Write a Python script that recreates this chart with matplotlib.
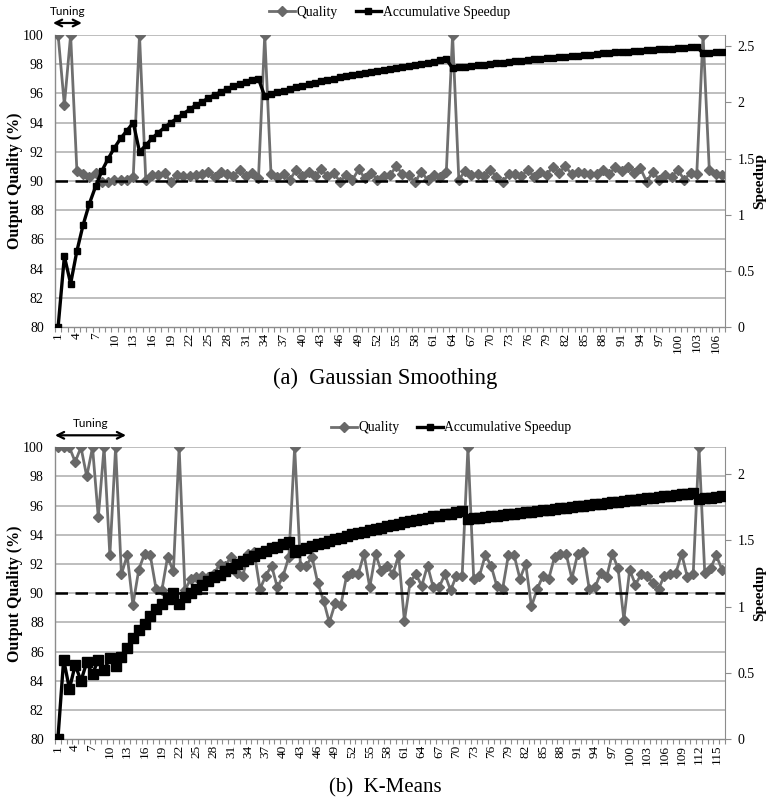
import matplotlib
matplotlib.use("Agg")
import matplotlib.pyplot as plt
from matplotlib.lines import Line2D
from matplotlib.ticker import FixedLocator, FuncFormatter

# ---------------- data: Gaussian Smoothing ----------------
gs_quality = [
    100, 95.2, 100, 90.7, 90.5, 90.3, 90.57, 89.95, 89.9, 90.1,
    90.07, 90.07, 90.3, 100, 90.07, 90.4, 90.4, 90.57, 89.9, 90.4,
    90.36, 90.36, 90.4, 90.5, 90.6, 90.3, 90.64, 90.5, 90.34, 90.75,
    90.34, 90.57, 90.18, 100, 90.48, 90.3, 90.5, 90.07, 90.75, 90.34,
    90.64, 90.34, 90.8, 90.34, 90.57, 89.95, 90.4, 90.07, 90.8, 90.18,
    90.57, 90.07, 90.34, 90.4, 91.0, 90.48, 90.4, 89.9, 90.64, 90.07,
    90.4, 90.3, 90.64, 100, 90.07, 90.7, 90.4, 90.5, 90.34, 90.75,
    90.3, 89.92, 90.5, 90.48, 90.34, 90.75, 90.3, 90.64, 90.4, 90.98,
    90.57, 91.0, 90.48, 90.64, 90.57, 90.5, 90.48, 90.75, 90.48, 90.93,
    90.7, 90.98, 90.57, 90.86, 89.95, 90.64, 90.07, 90.4, 90.3, 90.75,
    90.07, 90.57, 90.5, 100, 90.75, 90.48, 90.4,
]
gs_speedup = [
    0.0, 0.629, 0.386, 0.676, 0.91, 1.099, 1.253, 1.391, 1.499, 1.596,
    1.68, 1.749, 1.82, 1.56, 1.617, 1.68, 1.729, 1.778, 1.82, 1.859,
    1.898, 1.937, 1.976, 2.002, 2.041, 2.067, 2.093, 2.119, 2.145, 2.165,
    2.184, 2.197, 2.21, 2.054, 2.071, 2.088, 2.103, 2.119, 2.133, 2.148,
    2.161, 2.174, 2.187, 2.198, 2.21, 2.222, 2.232, 2.243, 2.253, 2.263,
    2.272, 2.282, 2.291, 2.3, 2.309, 2.318, 2.327, 2.336, 2.345, 2.353,
    2.362, 2.373, 2.383, 2.304, 2.311, 2.318, 2.324, 2.331, 2.337, 2.344,
    2.349, 2.354, 2.361, 2.366, 2.371, 2.376, 2.382, 2.387, 2.392, 2.397,
    2.402, 2.408, 2.412, 2.417, 2.421, 2.426, 2.43, 2.435, 2.439, 2.444,
    2.448, 2.452, 2.456, 2.46, 2.464, 2.467, 2.471, 2.475, 2.479, 2.483,
    2.487, 2.491, 2.495, 2.436, 2.441, 2.447, 2.452,
]

# ---------------- data: K-Means ----------------
km_quality = [
    100, 100, 100, 99.0, 100, 98.0, 100, 95.2, 100, 92.6,
    100, 91.3, 92.6, 89.2, 91.6, 92.7, 92.6, 90.3, 90.2, 92.5,
    91.5, 100, 90.2, 91.0, 91.1, 91.2, 91.1, 91.3, 92.0, 91.9,
    92.5, 91.4, 91.2, 92.7, 92.8, 90.3, 91.2, 91.9, 90.4, 91.2,
    92.5, 100, 91.9, 91.9, 92.5, 90.7, 89.5, 88.0, 89.3, 89.2,
    91.2, 91.4, 91.3, 92.7, 90.4, 92.7, 91.5, 91.9, 91.3, 92.6,
    88.1, 90.8, 91.3, 90.5, 91.9, 90.4, 90.4, 91.3, 90.2, 91.2,
    91.2, 100, 91.0, 91.2, 92.6, 91.9, 90.5, 90.3, 92.6, 92.6,
    91.0, 92.0, 89.1, 90.3, 91.2, 91.0, 92.5, 92.7, 92.7, 91.0,
    92.7, 92.8, 90.3, 90.4, 91.4, 91.1, 92.7, 91.7, 88.2, 91.6,
    90.6, 91.3, 91.2, 90.7, 90.3, 91.2, 91.3, 91.4, 92.7, 91.1,
    91.3, 100, 91.4, 91.7, 92.6, 91.6,
]
km_speedup = [
    0.0, 0.60, 0.38, 0.56, 0.44, 0.58, 0.49, 0.60, 0.52, 0.61,
    0.55, 0.62, 0.69, 0.76, 0.82, 0.87, 0.93, 0.98, 1.02, 1.06,
    1.10, 1.02, 1.07, 1.10, 1.13, 1.16, 1.19, 1.22, 1.24, 1.27,
    1.29, 1.32, 1.34, 1.36, 1.38, 1.40, 1.42, 1.44, 1.45, 1.47,
    1.49, 1.41, 1.425, 1.44, 1.455, 1.47, 1.48, 1.495, 1.51, 1.52,
    1.53, 1.545, 1.555, 1.565, 1.575, 1.585, 1.595, 1.605, 1.615, 1.625,
    1.635, 1.645, 1.65, 1.66, 1.67, 1.68, 1.685, 1.695, 1.70, 1.71,
    1.72, 1.66, 1.665, 1.67, 1.675, 1.68, 1.685, 1.69, 1.695, 1.70,
    1.705, 1.71, 1.715, 1.72, 1.725, 1.73, 1.735, 1.74, 1.745, 1.75,
    1.755, 1.76, 1.765, 1.77, 1.775, 1.78, 1.785, 1.79, 1.795, 1.80,
    1.805, 1.81, 1.815, 1.82, 1.825, 1.83, 1.835, 1.84, 1.845, 1.85,
    1.855, 1.81, 1.815, 1.82, 1.825, 1.83,
]

quality_threshold = 90
quality_ticks = [80, 82, 84, 86, 88, 90, 92, 94, 96, 98, 100]
gs_speed_ticks = [0, 0.5, 1, 1.5, 2, 2.5]
km_speed_ticks = [0, 0.5, 1, 1.5, 2]
gs_speed_max = 2.6
km_speed_max = 2.2

# ---------------- styling ----------------
SERIF = ["Liberation Serif", "DejaVu Serif"]
plt.rcParams["font.family"] = SERIF
GRAY_LINE = "#6f6f6f"
GRID = "#b9b9b9"
AXIS = "#8c8c8c"

fig = plt.figure(figsize=(7.70, 8.02), dpi=100)


def panel(rect, quality, speedup, smax, sticks, caption, cap_y, cap_size,
          legend_xy, tuning_x, sq_size):
    n = len(quality)
    x = list(range(1, n + 1))
    ax = fig.add_axes(rect)
    ax.set_xlim(0.5, n + 0.5)
    ax.set_ylim(80, 100)
    ax.yaxis.set_major_locator(FixedLocator(quality_ticks))
    for v in quality_ticks[1:]:
        ax.axhline(v, color=GRID, lw=1.3, zorder=0)
    for s in ("top", "right"):
        ax.spines[s].set_visible(False)
    for s in ("left", "bottom"):
        ax.spines[s].set_color(AXIS)
        ax.spines[s].set_linewidth(1.0)
    ax.tick_params(axis="y", length=0, pad=8, labelsize=10)
    ax.set_xticks(list(range(1, n + 1, 3)))
    ax.set_xticks([i + 0.5 for i in range(0, n + 1)], minor=True)
    ax.tick_params(axis="x", which="major", length=0, pad=4,
                   labelsize=9.5, labelrotation=90)
    ax.tick_params(axis="x", which="minor", length=3.5, color=AXIS, width=0.8)
    ax.set_ylabel("Output Quality (%)", fontweight="bold", fontsize=11.5)
    ax.yaxis.set_label_coords(-0.047, 0.5)

    ax.plot(x, quality, color=GRAY_LINE, lw=2.0, marker="D", ms=4.6,
            mfc="#686868", mec="#686868", zorder=3)
    ax.axhline(quality_threshold, color="black", lw=1.8,
               dashes=(5, 3), zorder=4)

    ax2 = ax.twinx()
    ax2.set_ylim(0, smax)
    ax2.yaxis.set_major_locator(FixedLocator(sticks))
    ax2.yaxis.set_major_formatter(FuncFormatter(lambda v, p: f"{v:g}"))
    for s in ("top", "left", "bottom"):
        ax2.spines[s].set_visible(False)
    ax2.spines["right"].set_color(AXIS)
    ax2.tick_params(axis="y", length=4, color=AXIS, pad=5, labelsize=10)
    ax2.set_ylabel("Speedup", fontweight="bold", fontsize=11, rotation=90)
    ax2.yaxis.set_label_coords(1.042, 0.5)
    ax2.plot(x, speedup, color="black", lw=2.4, marker="s", ms=sq_size,
             zorder=5)

    # tuning phase marker
    tr = ax.get_xaxis_transform()
    ax.annotate("", xy=(tuning_x[1], 1.041), xytext=(tuning_x[0], 1.041),
                xycoords=tr, textcoords=tr, annotation_clip=False,
                arrowprops=dict(arrowstyle="<->", lw=1.6, color="black",
                                shrinkA=0, shrinkB=0, mutation_scale=12))
    ax.text((tuning_x[0] + tuning_x[1]) / 2, 1.08, "Tuning", transform=tr,
            ha="center", va="center", fontsize=8.5, family=["Lato", "DejaVu Sans"])

    handles = [
        Line2D([], [], color=GRAY_LINE, lw=2.0, marker="D", ms=4.6,
               mfc="#686868", mec="#686868"),
        Line2D([], [], color="black", lw=2.4, marker="s", ms=5),
    ]
    fig.legend(handles, ["Quality", "Accumulative Speedup"], loc="center",
               bbox_to_anchor=legend_xy, ncol=2, frameon=False,
               fontsize=9.8, handlelength=1.9, handletextpad=0.1,
               columnspacing=1.3)
    fig.text(0.5, cap_y, caption, ha="center", va="center", fontsize=cap_size)
    return ax, ax2


panel([0.0714, 0.5923, 0.8701, 0.3641], gs_quality, gs_speedup,
      gs_speed_max, gs_speed_ticks, "(a)  Gaussian Smoothing", 1 - 378 / 802,
      16.3, (0.506, 0.985), (0.18, 4.8), 4.6)
panel([0.0714, 0.0782, 0.8701, 0.3641], km_quality, km_speedup,
      km_speed_max, km_speed_ticks, "(b)  K-Means", 1 - 788 / 802,
      15.0, (0.586, 1 - 428 / 802), (0.5, 12.8), 6.8)

fig.savefig("out.png", dpi=100)
